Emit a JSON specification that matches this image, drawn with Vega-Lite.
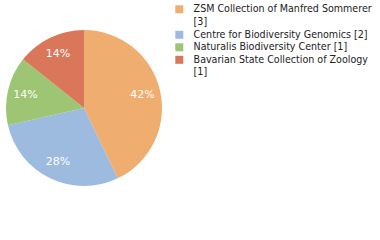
{
  "$schema": "https://vega.github.io/schema/vega-lite/v6.json",
  "width": 168,
  "height": 212,
  "padding": {"left": 0, "top": 2, "right": 0, "bottom": 0},
  "background": "white",
  "data": {"values": [
    {"name": "ZSM Collection of Manfred Sommerer [3]", "count": 3, "pct": "42%", "rank": 1},
    {"name": "Centre for Biodiversity Genomics [2]", "count": 2, "pct": "28%", "rank": 2},
    {"name": "Naturalis Biodiversity Center [1]", "count": 1, "pct": "14%", "rank": 3},
    {"name": "Bavarian State Collection of Zoology [1]", "count": 1, "pct": "14%", "rank": 4}
  ]},
  "encoding": {
    "theta": {"field": "count", "type": "quantitative", "stack": true},
    "order": {"field": "rank", "type": "quantitative"}
  },
  "layer": [
    {
      "mark": {"type": "arc", "outerRadius": 78},
      "encoding": {
        "color": {
          "field": "name",
          "type": "nominal",
          "sort": null,
          "scale": {
            "domain": ["ZSM Collection of Manfred Sommerer [3]", "Centre for Biodiversity Genomics [2]", "Naturalis Biodiversity Center [1]", "Bavarian State Collection of Zoology [1]"],
            "range": ["#EFAD6F", "#9DBADF", "#9DC574", "#DA775A"]
          },
          "legend": {
            "title": null,
            "orient": "right",
            "offset": 4,
            "padding": 2,
            "symbolType": "square",
            "symbolSize": 64,
            "symbolStrokeWidth": 0,
            "labelOffset": 9,
            "labelFont": "DejaVu Sans Condensed",
            "labelFontSize": 10.6,
            "labelLineHeight": 13.4,
            "labelColor": "#222222",
            "labelLimit": 260,
            "rowPadding": 1.5,
            "labelExpr": "length(datum.label) > 37 ? [slice(datum.label, 0, lastindexof(datum.label, ' ')), slice(datum.label, lastindexof(datum.label, ' ') + 1)] : datum.label"
          }
        }
      }
    },
    {
      "mark": {"type": "text", "radius": 60, "fill": "white", "font": "DejaVu Sans", "fontSize": 11},
      "encoding": {
        "text": {"field": "pct", "type": "nominal"}
      }
    }
  ],
  "config": {"view": {"stroke": null}}
}
